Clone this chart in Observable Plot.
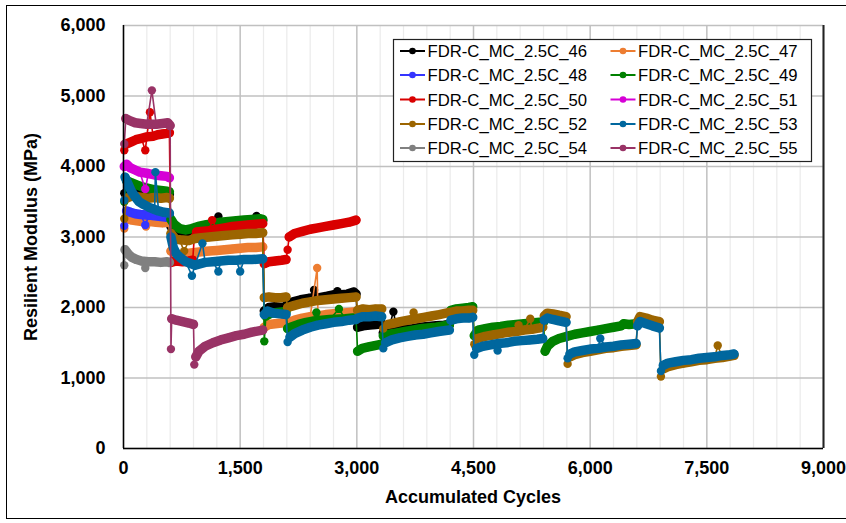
<!DOCTYPE html>
<html><head><meta charset="utf-8">
<script src="https://cdn.jsdelivr.net/npm/d3@7"></script>
<script src="https://cdn.jsdelivr.net/npm/@observablehq/plot@0.6"></script>
<style>
body{margin:0;background:#fff;}
#chart{position:relative;width:846px;height:523px;overflow:hidden;}
</style>
</head><body><div id="chart"></div>
<script>
// ---------- DATA (cycles, resilient modulus MPa; third value 1 = isolated outlier point) ----------
const seriesNames = ["FDR-C_MC_2.5C_46","FDR-C_MC_2.5C_47","FDR-C_MC_2.5C_48","FDR-C_MC_2.5C_49","FDR-C_MC_2.5C_50",
                     "FDR-C_MC_2.5C_51","FDR-C_MC_2.5C_52","FDR-C_MC_2.5C_53","FDR-C_MC_2.5C_54","FDR-C_MC_2.5C_55"];
const seriesColors = ["#000000","#ED7D31","#3535FF","#008000","#D90000","#D600D6","#9C6500","#00679E","#808080","#993366"];

const s46 = [
  [[10,3620,1],[60,3700],[120,3680],[180,3660],[260,3630],[320,3640],[400,3610],[480,3620],[560,3600],[590,3610]],
  [[610,3150],[660,3080],[720,3060],[800,3050],[880,3060],[960,3100],[1050,3140],[1150,3170],[1220,3290,1],[1250,3180],[1350,3200],[1450,3210],[1550,3220],[1650,3230],[1710,3300,1],[1790,3230]],
  [[1810,1950],[1870,2000],[1950,2010],[2030,2000],[2090,2010]],
  [[2110,2050],[2180,2080],[2280,2110],[2380,2130],[2450,2250,1],[2520,2140],[2620,2160],[2700,2180],[2750,2230,1],[2800,2180],[2880,2190],[2960,2220],[2990,2190]],
  [[3010,1720],[3080,1740],[3160,1750],[3240,1760],[3320,1770]],
  [[3340,1640],[3400,1660],[3470,1940,1],[3520,1670],[3620,1690],[3720,1700],[3820,1720],[3920,1730],[4020,1740],[4120,1750],[4190,1760]]
];
const s47 = [
  [[10,3120,1],[50,3260],[110,3240],[170,3230],[240,3220],[290,3150,1],[340,3220],[420,3210],[500,3200],[580,3210]],
  [[610,2800],[680,2760],[760,2740],[840,2770],[920,2780],[1000,2790],[1100,2800],[1200,2810],[1300,2820],[1400,2830],[1500,2840],[1600,2850],[1700,2850],[1790,2860]],
  [[1810,1720],[1870,1760],[1950,1770],[2030,1780],[2090,1790]],
  [[2110,1780],[2200,1820],[2300,1850],[2400,1870],[2490,2560,1],[2500,1880],[2600,1900],[2700,1910],[2800,1920],[2900,1930],[2990,1940]]
];
const s48 = [
  [[10,3160,1],[40,3370],[90,3350],[150,3330],[220,3320],[280,3170,1],[330,3310],[400,3300],[480,3290],[560,3280],[590,3300]]
];
const s49 = [
  [[10,3500,1],[40,3800],[100,3770],[170,3740],[240,3710],[320,3690],[400,3670],[480,3660],[560,3650],[590,3640]],
  [[610,3250],[650,3180],[720,3120],[800,3100],[880,3120],[960,3150],[1050,3170],[1150,3190],[1250,3210],[1350,3220],[1450,3230],[1550,3240],[1650,3250],[1750,3260],[1790,3250]],
  [[1810,1520,1],[1830,1880],[1900,1920],[1980,1930],[2060,1940],[2090,1940]],
  [[2110,1700],[2150,1720],[2250,1760],[2350,1790],[2450,1810],[2480,1930,1],[2550,1820],[2650,1830],[2770,1980,1],[2850,1840],[2950,1850],[2990,1850]],
  [[3010,1380],[3070,1420],[3150,1440],[3230,1460],[3320,1480]],
  [[3340,1600],[3420,1620],[3520,1640],[3620,1660],[3720,1680],[3820,1700],[3920,1710],[4020,1720],[4120,1740],[4190,1750]],
  [[4210,1960],[4280,1980],[4360,1990],[4440,2000],[4490,2010]],
  [[4510,1600],[4560,1680],[4650,1700],[4750,1720],[4850,1730],[4950,1750],[5050,1760],[5150,1770],[5250,1780],[5350,1790],[5400,1790]],
  [[5420,1380],[5450,1450],[5520,1520],[5600,1560],[5700,1590],[5800,1620],[5900,1640],[6000,1660],[6100,1680],[6200,1700],[6300,1720],[6400,1740],[6430,1770],[6500,1760],[6590,1770]]
];
const s50 = [
  [[10,4230,1],[40,4320],[100,4350],[160,4380],[230,4400],[280,4230,1],[300,4420],[340,4770,1],[380,4430],[440,4450],[500,4460],[560,4470],[590,4480]],
  [[610,2640],[680,2660],[760,2650],[840,2660],[890,2670]],
  [[910,3000,1],[940,3070],[1000,3080],[1100,3090],[1140,3240,1],[1200,3110],[1300,3130],[1400,3150],[1500,3160],[1600,3170],[1700,3180],[1790,3190]],
  [[1810,2620],[1870,2650],[1950,2660],[2030,2670],[2090,2680]],
  [[2110,2820,1],[2130,3000],[2200,3050],[2300,3080],[2400,3110],[2500,3130],[2600,3150],[2700,3170],[2800,3190],[2900,3210],[2990,3240]]
];
const s51 = [
  [[10,4000],[40,4030],[90,3980],[150,3950],[210,3920],[280,3680,1],[320,3900],[400,3880],[480,3870],[560,3860],[590,3840]]
];
const s52 = [
  [[10,3260,1],[40,3550],[100,3580],[170,3570],[240,3560],[320,3550],[400,3560],[480,3550],[560,3560],[590,3550]],
  [[610,3050],[660,2980],[720,2960],[780,2800,1],[840,2950],[920,2980],[1000,2990],[1100,3000],[1200,3010],[1300,3020],[1400,3030],[1500,3040],[1600,3050],[1700,3050],[1790,3060]],
  [[1810,2140],[1870,2150],[1950,2140],[2030,2140],[2090,2150]],
  [[2110,2000],[2200,2030],[2300,2060],[2400,2080],[2500,2100],[2600,2110],[2700,2120],[2800,2130],[2900,2140],[2990,2150]],
  [[3010,1960],[3080,1980],[3160,1970],[3240,1980],[3320,1980]],
  [[3340,1700,1],[3400,1760],[3480,1780],[3560,1800],[3660,1820],[3730,1930,1],[3760,1840],[3860,1860],[3960,1880],[4060,1900],[4190,1930]],
  [[4210,1930],[4280,1950],[4360,1950],[4440,1960],[4490,1960]],
  [[4510,1480,1],[4550,1560],[4650,1590],[4750,1610],[4850,1630],[4950,1650],[5050,1660],[5080,1750,1],[5150,1680],[5230,1840,1],[5250,1690],[5350,1710],[5390,1720]],
  [[5410,1880],[5450,1920],[5520,1910],[5600,1890],[5690,1870]],
  [[5710,1200,1],[5740,1300],[5800,1330],[5900,1360],[6000,1380],[6100,1400],[6200,1420],[6300,1430],[6400,1450],[6500,1460],[6590,1470]],
  [[6610,1800],[6640,1870],[6720,1850],[6800,1820],[6890,1800]],
  [[6910,1020,1],[6940,1130],[7000,1160],[7100,1190],[7200,1210],[7300,1230],[7400,1250],[7500,1260],[7600,1280],[7640,1460,1],[7700,1290],[7800,1310],[7850,1320]]
];
const s53 = [
  [[10,3520,1],[20,3850],[60,3750],[100,3650],[150,3570],[200,3500],[260,3460],[330,3420],[400,3390],[410,3920,1],[450,3370],[520,3350],[590,3340]],
  [[610,3000],[640,2850],[680,2760],[740,2700],[800,2650],[880,2450,1],[920,2600],[1015,2910,1],[1050,2640],[1150,2650],[1220,2510,1],[1250,2660],[1350,2670],[1450,2670],[1500,2510,1],[1550,2680],[1650,2680],[1790,2690]],
  [[1810,1900],[1850,1950],[1930,1920],[2010,1910],[2090,1900]],
  [[2110,1510,1],[2140,1580],[2200,1630],[2300,1680],[2400,1720],[2500,1750],[2600,1770],[2700,1790],[2800,1800],[2900,1820],[2990,1830]],
  [[3010,1850],[3080,1870],[3160,1870],[3240,1880],[3320,1870]],
  [[3340,1420,1],[3370,1500],[3450,1540],[3550,1570],[3650,1590],[3750,1610],[3850,1620],[3950,1640],[4050,1660],[4190,1680]],
  [[4210,1820],[4280,1840],[4360,1850],[4440,1850],[4490,1860]],
  [[4510,1330,1],[4540,1420],[4620,1450],[4720,1470],[4810,1390,1],[4820,1490],[4920,1500],[5020,1520],[5120,1530],[5220,1540],[5320,1550],[5390,1560]],
  [[5410,1820],[5450,1850],[5520,1830],[5600,1810],[5690,1790]],
  [[5710,1280,1],[5740,1340],[5800,1370],[5900,1390],[6000,1410],[6100,1420],[6130,1560,1],[6200,1440],[6300,1450],[6400,1470],[6500,1480],[6590,1490]],
  [[6610,1740],[6640,1800],[6720,1770],[6800,1740],[6890,1710]],
  [[6910,1100,1],[6940,1180],[7000,1210],[7100,1230],[7200,1250],[7300,1260],[7400,1280],[7500,1290],[7600,1300],[7700,1320],[7800,1330],[7850,1340]]
];
const s54 = [
  [[10,2600,1],[20,2820],[60,2760],[110,2710],[170,2680],[230,2660],[280,2560,1],[320,2650],[400,2650],[480,2640],[560,2650],[590,2640]]
];
const s55 = [
  [[10,4320,1],[30,4680],[80,4650],[150,4620],[220,4610],[300,4600],[365,5080,1],[420,4600],[500,4610],[570,4620],[600,4580]],
  [[610,1410,1],[620,1840],[680,1820],[760,1800],[840,1780],[900,1760]],
  [[910,1190,1],[930,1300],[970,1380],[1050,1450],[1150,1500],[1250,1540],[1350,1570],[1450,1600],[1550,1620],[1650,1650],[1790,1680]]
];
const allSeries = [s46,s47,s48,s49,s50,s51,s52,s53,s54,s55];

const xTicks = [0,1500,3000,4500,6000,7500,9000];
const xMinorStep = 300;
const yTicks = [0,1000,2000,3000,4000,5000,6000];

// ---------- BUILD ----------
const fmt = d3.format(",");
const FONT = "Arial, 'Liberation Sans', sans-serif";
const xMinor = d3.range(0, 9001, xMinorStep).filter(v => !xTicks.includes(v));

const seriesMarks = [];
allSeries.forEach((segs, i) => {
  const rows = [];
  segs.forEach((seg, j) => seg.forEach(p => rows.push({x: p[0], y: p[1], seg: j, out: p[2] === 1})));
  const c = seriesColors[i];
  seriesMarks.push(
    Plot.line(rows, {x: "x", y: "y", stroke: c, strokeWidth: 1.6}),
    Plot.line(rows.filter(d => !d.out), {x: "x", y: "y", z: "seg", stroke: c, strokeWidth: 9.5, strokeLinecap: "round", strokeLinejoin: "round"}),
    Plot.dot(rows, {x: "x", y: "y", r: 4.2, fill: c, stroke: "none"})
  );
});

const chart = Plot.plot({
  width: 846, height: 523,
  marginLeft: 123, marginRight: 23, marginTop: 25, marginBottom: 75,
  style: {fontFamily: FONT, fontWeight: "bold", fontSize: "18px", color: "#000", background: "#fff"},
  x: {domain: [0, 9000]},
  y: {domain: [0, 6000]},
  marks: [
    Plot.gridX(xMinor, {stroke: "#ebebeb", strokeOpacity: 1, strokeWidth: 1.2}),
    Plot.gridX(xTicks, {stroke: "#c0c0c0", strokeOpacity: 1, strokeWidth: 1.5}),
    Plot.gridY(yTicks, {stroke: "#c0c0c0", strokeOpacity: 1, strokeWidth: 1.5}),
    Plot.axisX(xTicks, {tickSize: 0, tickPadding: 13, tickFormat: fmt, label: null, fontSize: 18}),
    Plot.axisY(yTicks, {tickSize: 0, tickPadding: 18, tickFormat: fmt, label: null, fontSize: 18}),
    Plot.ruleX([9000], {stroke: "#222", strokeWidth: 2}),
    ...seriesMarks,
    Plot.ruleX([0], {stroke: "#000", strokeWidth: 1.5}),
    Plot.ruleY([0], {stroke: "#000", strokeWidth: 1.5})
  ]
});
document.getElementById("chart").appendChild(chart);

// ---------- decorations: frame, axis titles, legend ----------
const svg = d3.select(chart);
svg.insert("rect", ":first-child").attr("x", 6.5).attr("y", 5.5).attr("width", 900).attr("height", 513)
  .attr("fill", "none").attr("stroke", "#000").attr("stroke-width", 1);

svg.append("text").attr("x", 473).attr("y", 503).attr("text-anchor", "middle")
  .style("font", `bold 18px ${FONT}`).text("Accumulated Cycles");
svg.append("text").attr("transform", "translate(37,237) rotate(-90)").attr("text-anchor", "middle")
  .style("font", `bold 18px ${FONT}`).text("Resilient Modulus (MPa)");

const lg = svg.append("g").attr("text-anchor", "start");
lg.append("rect").attr("x", 393.5).attr("y", 39.5).attr("width", 418).attr("height", 122)
  .attr("fill", "#fff").attr("stroke", "#222").attr("stroke-width", 1.2);
const rowY = [51, 75, 99.5, 124, 148];
seriesNames.forEach((name, i) => {
  const col = i % 2, row = Math.floor(i / 2);
  const x0 = col === 0 ? 400 : 610.5;
  const y0 = rowY[row];
  lg.append("line").attr("x1", x0).attr("x2", x0 + 25).attr("y1", y0).attr("y2", y0)
    .attr("stroke", seriesColors[i]).attr("stroke-width", 2);
  lg.append("circle").attr("cx", x0 + 12.5).attr("cy", y0).attr("r", 3.3).attr("fill", seriesColors[i]);
  lg.append("text").attr("x", x0 + 27.5).attr("y", y0 + 6).attr("text-anchor", "start")
    .style("font", `normal 16.7px ${FONT}`).attr("fill", "#000").text(name);
});
</script>
</body></html>
